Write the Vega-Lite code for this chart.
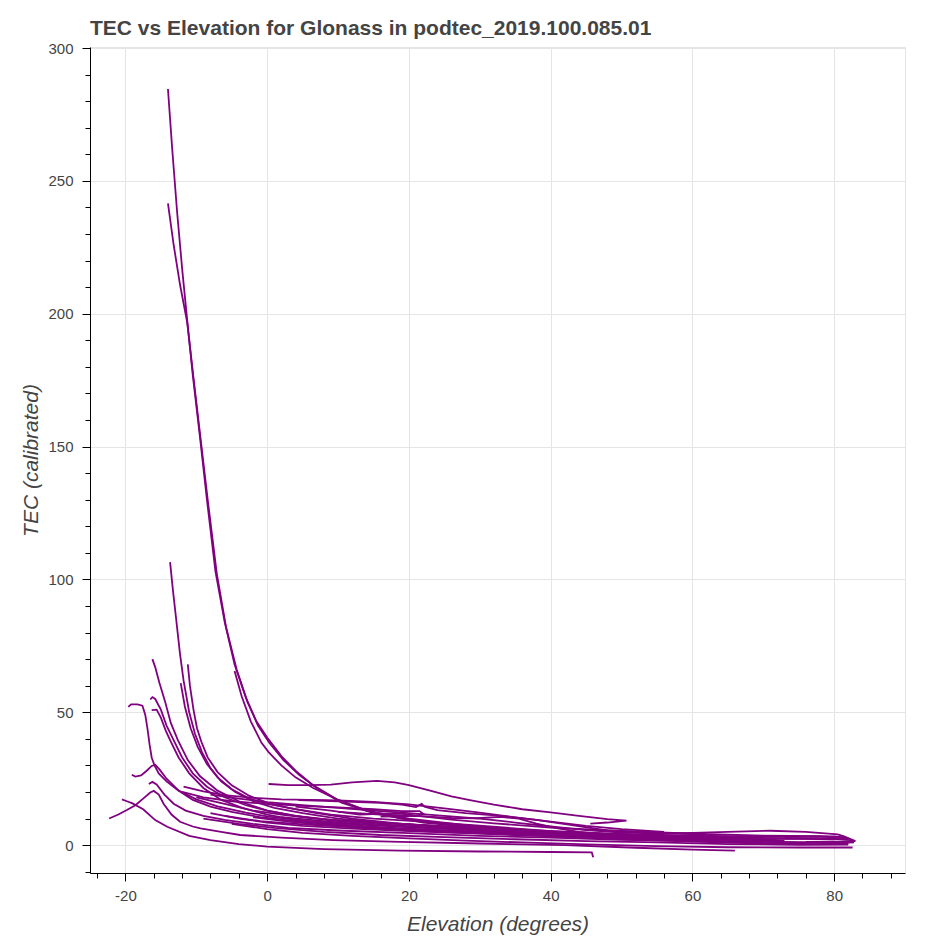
{
  "$schema": "https://vega.github.io/schema/vega-lite/v6.json",
  "autosize": "none",
  "padding": {"left": 90, "top": 47, "right": 27, "bottom": 64},
  "width": 815,
  "height": 826,
  "background": "white",
  "title": {"text": "TEC vs Elevation for Glonass in podtec_2019.100.085.01", "anchor": "start", "frame": "group", "font": "Liberation Sans", "fontSize": 21, "fontWeight": "bold", "color": "#444444", "offset": 2},
  "config": {
    "view": {"stroke": "#e5e5e5", "strokeWidth": 1},
    "axis": {"domainColor": "#000000", "tickColor": "#000000", "gridColor": "#e5e5e5", "gridWidth": 1, "labelFont": "Liberation Sans", "labelFontSize": 15, "labelColor": "#444444", "titleFont": "Liberation Sans", "titleFontSize": 21, "titleFontStyle": "italic", "titleFontWeight": "normal", "titleColor": "#444444", "labelOverlap": false, "labelFlush": false}
  },
  "data": {"values": [
{"sat":"A","elev":-14.0,"tec":284.6},{"sat":"A","elev":-13.4,"tec":262},{"sat":"A","elev":-12.7,"tec":238},{"sat":"A","elev":-12.0,"tec":217},{"sat":"A","elev":-11.3,"tec":198},{"sat":"A","elev":-10.5,"tec":177},{"sat":"A","elev":-9.5,"tec":154},{"sat":"A","elev":-8.5,"tec":130},{"sat":"A","elev":-7.3,"tec":103},{"sat":"A","elev":-6.0,"tec":84},{"sat":"A","elev":-4.6,"tec":68},{"sat":"A","elev":-3.0,"tec":55.5},{"sat":"A","elev":-1.5,"tec":46.5},{"sat":"A","elev":0,"tec":40.5},{"sat":"A","elev":2,"tec":33.5},{"sat":"A","elev":4,"tec":28},{"sat":"A","elev":6.5,"tec":22.5},{"sat":"A","elev":10,"tec":17},{"sat":"A","elev":14,"tec":13},{"sat":"A","elev":20,"tec":10},{"sat":"A","elev":28,"tec":7.5},{"sat":"A","elev":38,"tec":5},{"sat":"A","elev":50,"tec":3.5},{"sat":"A","elev":62,"tec":2.5},{"sat":"A","elev":72,"tec":1.8},
{"sat":"B","elev":-14.0,"tec":241.5},{"sat":"B","elev":-13.2,"tec":226},{"sat":"B","elev":-12.3,"tec":211},{"sat":"B","elev":-11.3,"tec":197},{"sat":"B","elev":-10.4,"tec":176},{"sat":"B","elev":-9.4,"tec":153},{"sat":"B","elev":-8.3,"tec":128},{"sat":"B","elev":-7.1,"tec":102},{"sat":"B","elev":-5.8,"tec":82},{"sat":"B","elev":-4.3,"tec":66},{"sat":"B","elev":-2.8,"tec":54},{"sat":"B","elev":-1.3,"tec":45},{"sat":"B","elev":0.3,"tec":38.5},{"sat":"B","elev":2.3,"tec":32},{"sat":"B","elev":4.5,"tec":26.5},{"sat":"B","elev":7,"tec":21.5},{"sat":"B","elev":10.5,"tec":16},{"sat":"B","elev":15,"tec":12},{"sat":"B","elev":22,"tec":8.5},{"sat":"B","elev":30,"tec":6.5},{"sat":"B","elev":40,"tec":4.5},{"sat":"B","elev":52,"tec":3},{"sat":"B","elev":65,"tec":2},
{"sat":"C","elev":-4.6,"tec":65.5},{"sat":"C","elev":-3.6,"tec":56},{"sat":"C","elev":-2.3,"tec":46.5},{"sat":"C","elev":-0.8,"tec":38.5},{"sat":"C","elev":0.2,"tec":35},{"sat":"C","elev":2,"tec":30},{"sat":"C","elev":4,"tec":25.5},{"sat":"C","elev":6.5,"tec":21.5},{"sat":"C","elev":10,"tec":17},{"sat":"C","elev":14,"tec":13},{"sat":"C","elev":19,"tec":10},{"sat":"C","elev":26,"tec":7.5},{"sat":"C","elev":34,"tec":5.5},{"sat":"C","elev":44,"tec":3.8},{"sat":"C","elev":56,"tec":2.5},{"sat":"C","elev":70,"tec":1.3},{"sat":"C","elev":80,"tec":0.8},
{"sat":"D","elev":-13.7,"tec":106.5},{"sat":"D","elev":-13.3,"tec":96},{"sat":"D","elev":-12.8,"tec":84},{"sat":"D","elev":-12.3,"tec":72},{"sat":"D","elev":-11.8,"tec":62},{"sat":"D","elev":-11.0,"tec":50},{"sat":"D","elev":-10.2,"tec":42},{"sat":"D","elev":-9.2,"tec":35},{"sat":"D","elev":-8,"tec":29},{"sat":"D","elev":-6.5,"tec":24},{"sat":"D","elev":-4.5,"tec":20},{"sat":"D","elev":-2,"tec":16.5},{"sat":"D","elev":1,"tec":14},{"sat":"D","elev":5,"tec":12},{"sat":"D","elev":10,"tec":10},{"sat":"D","elev":16,"tec":8.5},{"sat":"D","elev":24,"tec":7},{"sat":"D","elev":34,"tec":5.5},{"sat":"D","elev":45,"tec":4},{"sat":"D","elev":58,"tec":3},{"sat":"D","elev":70,"tec":2.5},
{"sat":"E","elev":-12.2,"tec":61},{"sat":"E","elev":-11.6,"tec":52},{"sat":"E","elev":-10.8,"tec":44},{"sat":"E","elev":-9.8,"tec":37},{"sat":"E","elev":-8.5,"tec":30.5},{"sat":"E","elev":-7,"tec":25.5},{"sat":"E","elev":-5,"tec":21},{"sat":"E","elev":-2.5,"tec":17.5},{"sat":"E","elev":0,"tec":15.5},{"sat":"E","elev":4,"tec":13.5},{"sat":"E","elev":9,"tec":11.5},{"sat":"E","elev":15,"tec":10},{"sat":"E","elev":22,"tec":8.8},{"sat":"E","elev":30,"tec":7.3},{"sat":"E","elev":40,"tec":5.3},{"sat":"E","elev":50,"tec":3.8},{"sat":"E","elev":60,"tec":2.8},
{"sat":"F","elev":-11.2,"tec":68},{"sat":"F","elev":-10.9,"tec":60},{"sat":"F","elev":-10.4,"tec":51},{"sat":"F","elev":-9.9,"tec":44},{"sat":"F","elev":-9.3,"tec":39},{"sat":"F","elev":-8.4,"tec":33},{"sat":"F","elev":-7,"tec":27.5},{"sat":"F","elev":-5,"tec":22.5},{"sat":"F","elev":-2.5,"tec":18.5},{"sat":"F","elev":0,"tec":16},{"sat":"F","elev":3,"tec":14},{"sat":"F","elev":7,"tec":12},{"sat":"F","elev":12,"tec":10},{"sat":"F","elev":18,"tec":8.3},{"sat":"F","elev":25,"tec":6.8},{"sat":"F","elev":35,"tec":5.2},{"sat":"F","elev":45,"tec":3.7},{"sat":"F","elev":55,"tec":2.7},{"sat":"F","elev":65,"tec":2},{"sat":"F","elev":73,"tec":1.6},
{"sat":"G","elev":-16.2,"tec":70},{"sat":"G","elev":-15.8,"tec":67},{"sat":"G","elev":-15.2,"tec":61},{"sat":"G","elev":-14.4,"tec":54},{"sat":"G","elev":-13.6,"tec":46},{"sat":"G","elev":-12.6,"tec":39.5},{"sat":"G","elev":-11.2,"tec":32},{"sat":"G","elev":-9.5,"tec":26},{"sat":"G","elev":-7,"tec":20.5},{"sat":"G","elev":-4,"tec":16.5},{"sat":"G","elev":0,"tec":13},{"sat":"G","elev":4,"tec":11},{"sat":"G","elev":9,"tec":9.3},{"sat":"G","elev":15,"tec":8},{"sat":"G","elev":22,"tec":6.8},{"sat":"G","elev":30,"tec":5.8},{"sat":"G","elev":40,"tec":4.6},{"sat":"G","elev":50,"tec":3.6},{"sat":"G","elev":60,"tec":3},{"sat":"G","elev":70,"tec":2.6},{"sat":"G","elev":80,"tec":2.2},
{"sat":"H","elev":-16.5,"tec":54.8},{"sat":"H","elev":-16.2,"tec":55.7},{"sat":"H","elev":-15.8,"tec":55},{"sat":"H","elev":-15.0,"tec":51},{"sat":"H","elev":-14.2,"tec":45},{"sat":"H","elev":-13.2,"tec":39.5},{"sat":"H","elev":-12,"tec":33},{"sat":"H","elev":-10.5,"tec":27},{"sat":"H","elev":-8.5,"tec":22},{"sat":"H","elev":-6,"tec":18},{"sat":"H","elev":-3,"tec":15},{"sat":"H","elev":0,"tec":13},{"sat":"H","elev":4,"tec":11},{"sat":"H","elev":9,"tec":9.5},{"sat":"H","elev":15,"tec":8.5},{"sat":"H","elev":22,"tec":7.5},{"sat":"H","elev":30,"tec":6.3},{"sat":"H","elev":40,"tec":5},{"sat":"H","elev":50,"tec":4.2},{"sat":"H","elev":60,"tec":3.6},{"sat":"H","elev":70,"tec":3.2},
{"sat":"I","elev":-16.3,"tec":50.8},{"sat":"I","elev":-15.6,"tec":51},{"sat":"I","elev":-15.0,"tec":48},{"sat":"I","elev":-14.3,"tec":43},{"sat":"I","elev":-13.7,"tec":39.5},{"sat":"I","elev":-12.5,"tec":33},{"sat":"I","elev":-11,"tec":27},{"sat":"I","elev":-9,"tec":21.5},{"sat":"I","elev":-6.5,"tec":17},{"sat":"I","elev":-3.5,"tec":14},{"sat":"I","elev":0,"tec":11.5},{"sat":"I","elev":4,"tec":9.5},{"sat":"I","elev":10,"tec":7.8},{"sat":"I","elev":17,"tec":6.6},{"sat":"I","elev":25,"tec":5.5},{"sat":"I","elev":35,"tec":4.4},{"sat":"I","elev":45,"tec":3.4},{"sat":"I","elev":55,"tec":2.5},{"sat":"I","elev":65,"tec":1.6},
{"sat":"J","elev":-19.6,"tec":52},{"sat":"J","elev":-19.2,"tec":53},{"sat":"J","elev":-18.3,"tec":53},{"sat":"J","elev":-17.6,"tec":52.5},{"sat":"J","elev":-17.2,"tec":49},{"sat":"J","elev":-16.9,"tec":44},{"sat":"J","elev":-16.6,"tec":38},{"sat":"J","elev":-16.3,"tec":33},{"sat":"J","elev":-15.9,"tec":30},{"sat":"J","elev":-15.3,"tec":27},{"sat":"J","elev":-14.2,"tec":24},{"sat":"J","elev":-12.5,"tec":20.5},{"sat":"J","elev":-10,"tec":17.2},{"sat":"J","elev":-7,"tec":14.6},{"sat":"J","elev":-3,"tec":12.2},{"sat":"J","elev":0,"tec":10.8},{"sat":"J","elev":5,"tec":9.2},{"sat":"J","elev":10,"tec":8.2},{"sat":"J","elev":18,"tec":7.1},{"sat":"J","elev":26,"tec":6.1},{"sat":"J","elev":35,"tec":5},{"sat":"J","elev":45,"tec":4.1},{"sat":"J","elev":55,"tec":3.5},{"sat":"J","elev":65,"tec":3},
{"sat":"K","elev":-19.1,"tec":26.5},{"sat":"K","elev":-18.6,"tec":25.8},{"sat":"K","elev":-17.8,"tec":26.2},{"sat":"K","elev":-17.0,"tec":28},{"sat":"K","elev":-16.3,"tec":29.8},{"sat":"K","elev":-15.8,"tec":30.2},{"sat":"K","elev":-15.2,"tec":28.5},{"sat":"K","elev":-14.2,"tec":25},{"sat":"K","elev":-12.5,"tec":20.5},{"sat":"K","elev":-10.5,"tec":17},{"sat":"K","elev":-8,"tec":14.5},{"sat":"K","elev":-5,"tec":12.5},{"sat":"K","elev":-1,"tec":10.5},{"sat":"K","elev":4,"tec":9},{"sat":"K","elev":10,"tec":7.5},{"sat":"K","elev":18,"tec":6},{"sat":"K","elev":28,"tec":5},{"sat":"K","elev":38,"tec":4},{"sat":"K","elev":48,"tec":3},{"sat":"K","elev":58,"tec":2.2},
{"sat":"L","elev":-16.7,"tec":23},{"sat":"L","elev":-16.2,"tec":23.8},{"sat":"L","elev":-15.6,"tec":22.8},{"sat":"L","elev":-14.5,"tec":19},{"sat":"L","elev":-13.2,"tec":15.6},{"sat":"L","elev":-11.5,"tec":13},{"sat":"L","elev":-9,"tec":11},{"sat":"L","elev":-6,"tec":9.5},{"sat":"L","elev":-2,"tec":8},{"sat":"L","elev":3,"tec":6.5},{"sat":"L","elev":10,"tec":5.5},{"sat":"L","elev":20,"tec":4.5},{"sat":"L","elev":30,"tec":3.5},{"sat":"L","elev":40,"tec":2.8},{"sat":"L","elev":50,"tec":2},{"sat":"L","elev":60,"tec":1.5},{"sat":"L","elev":70,"tec":1},
{"sat":"M","elev":-20.5,"tec":17.2},{"sat":"M","elev":-19.8,"tec":16.5},{"sat":"M","elev":-19.0,"tec":15.7},{"sat":"M","elev":-17.5,"tec":13.5},{"sat":"M","elev":-15.8,"tec":9.4},{"sat":"M","elev":-14.1,"tec":6.9},{"sat":"M","elev":-11,"tec":3.5},{"sat":"M","elev":-8,"tec":1.9},{"sat":"M","elev":-4,"tec":0.4},{"sat":"M","elev":0,"tec":-0.6},{"sat":"M","elev":8,"tec":-1.5},{"sat":"M","elev":18.8,"tec":-2.1},{"sat":"M","elev":30,"tec":-2.4},{"sat":"M","elev":40,"tec":-2.6},{"sat":"M","elev":45.8,"tec":-2.7},{"sat":"M","elev":46.0,"tec":-4.6},
{"sat":"N","elev":-22.3,"tec":10},{"sat":"N","elev":-21,"tec":11.5},{"sat":"N","elev":-19.8,"tec":13.2},{"sat":"N","elev":-18.6,"tec":15},{"sat":"N","elev":-17.5,"tec":17.5},{"sat":"N","elev":-16.5,"tec":19.8},{"sat":"N","elev":-16,"tec":20.4},{"sat":"N","elev":-15.3,"tec":19},{"sat":"N","elev":-14.6,"tec":15.5},{"sat":"N","elev":-13.5,"tec":11.5},{"sat":"N","elev":-12.3,"tec":8.8},{"sat":"N","elev":-10.5,"tec":7},{"sat":"N","elev":-9.4,"tec":6.3},{"sat":"N","elev":-6.5,"tec":5},{"sat":"N","elev":-3.8,"tec":3.8},{"sat":"N","elev":2,"tec":2.8},{"sat":"N","elev":9.3,"tec":1.9},{"sat":"N","elev":18.8,"tec":1.2},{"sat":"N","elev":30,"tec":0.6},{"sat":"N","elev":42,"tec":0},{"sat":"N","elev":52,"tec":-1},{"sat":"N","elev":60,"tec":-1.7},{"sat":"N","elev":66,"tec":-2.1},
{"sat":"O","elev":0.2,"tec":23},{"sat":"O","elev":3,"tec":22.6},{"sat":"O","elev":6,"tec":22.6},{"sat":"O","elev":9,"tec":22.8},{"sat":"O","elev":12,"tec":23.6},{"sat":"O","elev":15.5,"tec":24.2},{"sat":"O","elev":18,"tec":23.6},{"sat":"O","elev":20,"tec":22.6},{"sat":"O","elev":23,"tec":20.5},{"sat":"O","elev":26,"tec":18.3},{"sat":"O","elev":28.6,"tec":16.9},{"sat":"O","elev":32,"tec":15.2},{"sat":"O","elev":36,"tec":13.5},{"sat":"O","elev":40,"tec":12.3},{"sat":"O","elev":44,"tec":11},{"sat":"O","elev":48,"tec":9.8},{"sat":"O","elev":50.7,"tec":9.2},{"sat":"O","elev":48,"tec":8.5},{"sat":"O","elev":45.6,"tec":8.1},
{"sat":"P","elev":4.4,"tec":16.9},{"sat":"P","elev":8,"tec":16.7},{"sat":"P","elev":12,"tec":16.3},{"sat":"P","elev":16,"tec":15.9},{"sat":"P","elev":19,"tec":15.2},{"sat":"P","elev":21,"tec":14.3},{"sat":"P","elev":21.8,"tec":15.5},{"sat":"P","elev":22.2,"tec":14.5},{"sat":"P","elev":24,"tec":13.2},{"sat":"P","elev":28,"tec":12},{"sat":"P","elev":33,"tec":11},{"sat":"P","elev":38,"tec":9.5},{"sat":"P","elev":43,"tec":7.5},{"sat":"P","elev":48,"tec":5.5},{"sat":"P","elev":55,"tec":4.5},{"sat":"P","elev":62,"tec":4},
{"sat":"Q","elev":-12,"tec":20},{"sat":"Q","elev":-9,"tec":18},{"sat":"Q","elev":-5,"tec":16.5},{"sat":"Q","elev":0,"tec":15.5},{"sat":"Q","elev":5,"tec":14.8},{"sat":"Q","elev":10,"tec":14.2},{"sat":"Q","elev":15,"tec":13.5},{"sat":"Q","elev":19,"tec":12.8},{"sat":"Q","elev":21.5,"tec":12.8},{"sat":"Q","elev":22,"tec":11.8},{"sat":"Q","elev":21,"tec":11},{"sat":"Q","elev":19,"tec":10.8},{"sat":"Q","elev":16,"tec":10.7},
{"sat":"R","elev":-8,"tec":19},{"sat":"R","elev":-4,"tec":17.5},{"sat":"R","elev":0,"tec":16.2},{"sat":"R","elev":5,"tec":15},{"sat":"R","elev":10,"tec":14},{"sat":"R","elev":15,"tec":13},{"sat":"R","elev":20,"tec":12},{"sat":"R","elev":25,"tec":11},{"sat":"R","elev":30,"tec":10},{"sat":"R","elev":35,"tec":8.5},{"sat":"R","elev":40,"tec":7},{"sat":"R","elev":45,"tec":5.6},{"sat":"R","elev":50,"tec":4.7},{"sat":"R","elev":55,"tec":4.4},{"sat":"R","elev":60,"tec":4.6},{"sat":"R","elev":65,"tec":5},{"sat":"R","elev":71,"tec":5.4},{"sat":"R","elev":76,"tec":5},{"sat":"R","elev":80.5,"tec":4},{"sat":"R","elev":81.3,"tec":3.4},{"sat":"R","elev":83,"tec":1.5},{"sat":"R","elev":80,"tec":1.3},{"sat":"R","elev":76,"tec":1.2},
{"sat":"S","elev":10,"tec":12.5},{"sat":"S","elev":16,"tec":11.5},{"sat":"S","elev":22,"tec":10.8},{"sat":"S","elev":26,"tec":10.2},{"sat":"S","elev":29.6,"tec":10.1},{"sat":"S","elev":32.9,"tec":10.6},{"sat":"S","elev":35.5,"tec":10},{"sat":"S","elev":38,"tec":8.1},{"sat":"S","elev":41,"tec":6.3},{"sat":"S","elev":44,"tec":5},{"sat":"S","elev":48,"tec":4.1},{"sat":"S","elev":55,"tec":3.6},{"sat":"S","elev":62,"tec":3.3},{"sat":"S","elev":70,"tec":3.2},{"sat":"S","elev":76,"tec":3.3},{"sat":"S","elev":80,"tec":3.3},{"sat":"S","elev":81.5,"tec":2.9},{"sat":"S","elev":79,"tec":2.6},{"sat":"S","elev":73,"tec":2.5},
{"sat":"T","elev":-10,"tec":18},{"sat":"T","elev":-6,"tec":15.5},{"sat":"T","elev":-2,"tec":13},{"sat":"T","elev":2,"tec":11.5},{"sat":"T","elev":6,"tec":10.2},{"sat":"T","elev":12,"tec":8.8},{"sat":"T","elev":20,"tec":7.8},{"sat":"T","elev":28,"tec":6.8},{"sat":"T","elev":36,"tec":5.8},{"sat":"T","elev":44,"tec":4.8},{"sat":"T","elev":52,"tec":3.7},{"sat":"T","elev":60,"tec":3},{"sat":"T","elev":68,"tec":2.7},{"sat":"T","elev":76,"tec":2.5},{"sat":"T","elev":82,"tec":2.2},
{"sat":"U","elev":-8,"tec":12},{"sat":"U","elev":-4,"tec":10},{"sat":"U","elev":0,"tec":8.5},{"sat":"U","elev":5,"tec":7.2},{"sat":"U","elev":12,"tec":6.2},{"sat":"U","elev":20,"tec":5.3},{"sat":"U","elev":30,"tec":4.3},{"sat":"U","elev":40,"tec":3.3},{"sat":"U","elev":50,"tec":2.3},{"sat":"U","elev":60,"tec":1.3},{"sat":"U","elev":70,"tec":0.6},{"sat":"U","elev":78,"tec":0.4},{"sat":"U","elev":82.8,"tec":1.0},
{"sat":"V","elev":-5,"tec":8},{"sat":"V","elev":0,"tec":6},{"sat":"V","elev":5,"tec":4.6},{"sat":"V","elev":12,"tec":3.5},{"sat":"V","elev":20,"tec":2.5},{"sat":"V","elev":28,"tec":1.7},{"sat":"V","elev":36,"tec":1},{"sat":"V","elev":45,"tec":0.3},{"sat":"V","elev":55,"tec":-0.4},{"sat":"V","elev":65,"tec":-0.8},{"sat":"V","elev":75,"tec":-0.9},{"sat":"V","elev":82.6,"tec":-0.9},
{"sat":"W","elev":-2,"tec":10.5},{"sat":"W","elev":3,"tec":8.8},{"sat":"W","elev":9,"tec":7.3},{"sat":"W","elev":16,"tec":6},{"sat":"W","elev":24,"tec":5},{"sat":"W","elev":32,"tec":4.2},{"sat":"W","elev":40,"tec":3.5},{"sat":"W","elev":48,"tec":2.9},{"sat":"W","elev":56,"tec":2.4},{"sat":"W","elev":64,"tec":2},{"sat":"W","elev":73,"tec":1.2},
{"sat":"X","elev":4,"tec":14.5},{"sat":"X","elev":9,"tec":13},{"sat":"X","elev":13,"tec":11.5},{"sat":"X","elev":16,"tec":11.8},{"sat":"X","elev":19,"tec":11.8},{"sat":"X","elev":22,"tec":10.8},{"sat":"X","elev":26,"tec":9.6},{"sat":"X","elev":32,"tec":8.2},{"sat":"X","elev":40,"tec":6.6},{"sat":"X","elev":50,"tec":5.3},{"sat":"X","elev":60,"tec":4.3},{"sat":"X","elev":70,"tec":3.6},{"sat":"X","elev":78,"tec":3.4},{"sat":"X","elev":82,"tec":2.6},
{"sat":"Y","elev":-11.8,"tec":22},{"sat":"Y","elev":-9,"tec":20.2},{"sat":"Y","elev":-6,"tec":18.8},{"sat":"Y","elev":-2,"tec":17.8},{"sat":"Y","elev":2,"tec":17.2},{"sat":"Y","elev":6,"tec":17},{"sat":"Y","elev":10,"tec":16.8},{"sat":"Y","elev":15,"tec":16.3},{"sat":"Y","elev":20,"tec":15.3},{"sat":"Y","elev":25,"tec":13.8},{"sat":"Y","elev":30,"tec":12.2},{"sat":"Y","elev":35,"tec":10.4},{"sat":"Y","elev":40,"tec":8.8},{"sat":"Y","elev":45,"tec":7.2},{"sat":"Y","elev":50,"tec":6},{"sat":"Y","elev":56,"tec":5},
{"sat":"Z","elev":-6,"tec":11},{"sat":"Z","elev":-1,"tec":9},{"sat":"Z","elev":5,"tec":7.8},{"sat":"Z","elev":12,"tec":6.8},{"sat":"Z","elev":20,"tec":5.9},{"sat":"Z","elev":30,"tec":5},{"sat":"Z","elev":40,"tec":4},{"sat":"Z","elev":50,"tec":3.2},{"sat":"Z","elev":60,"tec":2.6},{"sat":"Z","elev":70,"tec":2.3},{"sat":"Z","elev":80,"tec":2.5},{"sat":"Z","elev":82.5,"tec":1.8},
{"sat":"AA","elev":2,"tec":10.5},{"sat":"AA","elev":8,"tec":9},{"sat":"AA","elev":15,"tec":7.5},{"sat":"AA","elev":22,"tec":6.5},{"sat":"AA","elev":30,"tec":5.5},{"sat":"AA","elev":38,"tec":4.5},{"sat":"AA","elev":46,"tec":3.4},{"sat":"AA","elev":54,"tec":2.3},{"sat":"AA","elev":62,"tec":1.6},{"sat":"AA","elev":70,"tec":1.2},{"sat":"AA","elev":78,"tec":0.9},{"sat":"AA","elev":82,"tec":0.7},
{"sat":"AB","elev":-9,"tec":10},{"sat":"AB","elev":-4,"tec":8},{"sat":"AB","elev":1,"tec":6.5},{"sat":"AB","elev":8,"tec":5},{"sat":"AB","elev":16,"tec":3.8},{"sat":"AB","elev":25,"tec":3},{"sat":"AB","elev":35,"tec":2.2},{"sat":"AB","elev":45,"tec":1.5},{"sat":"AB","elev":55,"tec":1},{"sat":"AB","elev":65,"tec":0.4},{"sat":"AB","elev":75,"tec":0.1},{"sat":"AB","elev":82,"tec":0.2}
  ]},
  "transform": [{"window": [{"op": "row_number", "as": "idx"}]}],
  "mark": {"type": "line", "color": "#800080", "strokeWidth": 1.8, "clip": true},
  "encoding": {
    "x": {"field": "elev", "type": "quantitative", "scale": {"domain": [-25, 90], "nice": false, "zero": false},
      "axis": {"title": "Elevation (degrees)", "values": [-24,-20,-16,-12,-8,-4,0,4,8,12,16,20,24,28,32,36,40,44,48,52,56,60,64,68,72,76,80,84,88],
        "labelExpr": "datum.value % 20 === 0 ? '' + datum.value : ''",
        "tickSize": {"condition": {"test": "datum.value % 20 === 0", "value": 8}, "value": 5},
        "gridOpacity": {"condition": {"test": "datum.value % 20 === 0", "value": 1}, "value": 0},
        "labelPadding": 7, "titlePadding": 10}},
    "y": {"field": "tec", "type": "quantitative", "scale": {"domain": [-10.5, 300.4], "nice": false, "zero": false},
      "axis": {"title": "TEC (calibrated)", "values": [-10,0,10,20,30,40,50,60,70,80,90,100,110,120,130,140,150,160,170,180,190,200,210,220,230,240,250,260,270,280,290,300],
        "labelExpr": "datum.value % 50 === 0 ? '' + datum.value : ''",
        "tickSize": {"condition": {"test": "datum.value % 50 === 0", "value": 8}, "value": 5},
        "gridOpacity": {"condition": {"test": "datum.value % 50 === 0", "value": 1}, "value": 0},
        "labelPadding": 9, "titlePadding": 6}},
    "detail": {"field": "sat", "type": "nominal"},
    "order": {"field": "idx", "type": "quantitative"}
  }
}
